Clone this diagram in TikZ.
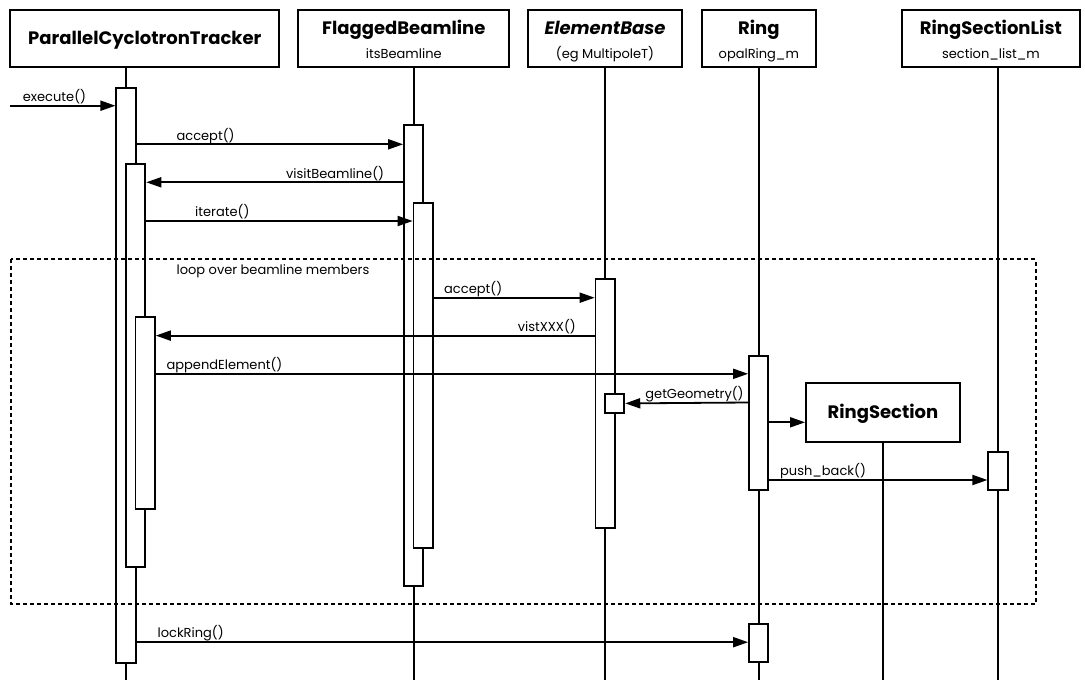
\documentclass[tikz,border=0pt]{standalone}
\usepackage{fontspec}
\setmainfont{Poppins}
\usetikzlibrary{arrows.meta}
\newcommand{\hdfont}{\fontsize{18}{21}\selectfont\bfseries}
\newcommand{\subfont}{\fontsize{13}{15}\selectfont}

\begin{document}
\begin{tikzpicture}[x=1pt, y=-1pt, >={Triangle[length=15pt,width=10pt]}, line width=1.8pt,
  obj/.style={draw, inner sep=0pt, minimum height=56.7pt},
  hd/.style={font=\hdfont, anchor=base, inner sep=0pt},
  sub/.style={font=\subfont, anchor=base, inner sep=0pt},
  bar/.style={draw, fill=white, anchor=north, minimum width=19.3pt, inner sep=0pt},
  lbl/.style={font=\subfont, inner sep=0pt},
  frame/.style={dash pattern=on 4pt off 3pt}]
  \useasboundingbox (0,0) rectangle (1085,680);

  % objects along the top
  \node[obj, minimum width=269pt] (pct) at (144.8,38.35) {};
  \node[hd] (pct-t) at (144.8,44.5) {ParallelCyclotronTracker};
  \node[obj, minimum width=211pt] (fbl) at (403.8,38.35) {};
  \node[hd] (fbl-t) at (403.8,34.3) {FlaggedBeamline};
  \node[sub] (fbl-s) at (403.8,58.3) {itsBeamline};
  \node[obj, minimum width=153.4pt] (elb) at (605,38.35) {};
  \node[hd] (elb-t) at (605,34.3) {\itshape ElementBase};
  \node[sub] (elb-s) at (605,58.3) {(eg MultipoleT)};
  \node[obj, minimum width=114.3pt] (ring) at (758.8,38.35) {};
  \node[hd] (ring-t) at (758.8,34.3) {Ring};
  \node[sub] (ring-s) at (758.8,58.3) {opalRing\_m};
  \node[obj, minimum width=178.3pt] (rsl) at (990.9,38.35) {};
  \node[hd] (rsl-t) at (990.9,34.3) {RingSectionList};
  \node[sub] (rsl-s) at (990.9,58.3) {section\_list\_m};
  \node[obj, minimum width=154pt, minimum height=58.4pt] (rs) at (883,412.5) {};
  \node[hd] (rs-t) at (883,418.3) {RingSection};

  % lifelines
  \coordinate (l-pct) at (126,680);
  \coordinate (l-fbl) at (413.7,680);
  \coordinate (l-elb) at (605.2,680);
  \coordinate (l-ring) at (758.7,680);
  \coordinate (l-rs) at (883,680);
  \coordinate (l-rsl) at (998,680);
  \draw (pct.south -| l-pct) -- (l-pct);
  \draw (fbl.south -| l-fbl) -- (l-fbl);
  \draw (elb.south -| l-elb) -- (l-elb);
  \draw (ring.south -| l-ring) -- (l-ring);
  \draw (rs.south) -- (l-rs);
  \draw (rsl.south -| l-rsl) -- (l-rsl);

  % activations
  \node[bar, minimum height=575pt] (a1) at (126,86.7) {};
  \node[bar, minimum height=402.4pt] (a2) at (135.7,163.3) {};
  \node[bar, minimum height=192pt] (a3) at (145.2,316.3) {};
  \node[bar, minimum height=460.7pt] (b1) at (413.7,124.3) {};
  \node[bar, minimum height=345pt] (b2) at (423.2,201.7) {};
  \node[bar, minimum height=249pt] (c1) at (605.2,278.3) {};
  \node[bar, minimum height=19.6pt] (c2) at (614.7,392.7) {};
  \node[bar, minimum height=134pt] (d1) at (758.7,355) {};
  \node[bar, minimum height=37.7pt] (d2) at (758.7,623.3) {};
  \node[bar, minimum height=38.6pt] (e1) at (998,450.7) {};

  % loop frame
  \draw[frame] (11,259.3) rectangle (1036,604);
  \node[lbl, anchor=base west] (loop) at (175.7,274.5) {loop over beamline members};

  % messages
  \coordinate (ext) at (10,105.7);
  \draw[->] (ext) -- (a1.west |- ext);
  \node[lbl, anchor=base west] (m1) at (22,101.4) {execute()};
  \draw[->] (a1.east |- 0,144.3) -- (b1.west |- 0,144.3);
  \node[lbl, anchor=base west] (m2) at (175.7,140) {accept()};
  \draw[->] (b1.west |- 0,182.3) -- (a2.east |- 0,182.3);
  \node[lbl, anchor=base east] (m3) at (385,178) {visitBeamline()};
  \draw[->] (a2.east |- 0,221) -- (b2.west |- 0,221);
  \node[lbl, anchor=base west] (m4) at (194.3,216.7) {iterate()};
  \draw[->] (b2.east |- 0,297.7) -- (c1.west |- 0,297.7);
  \node[lbl, anchor=base west] (m5) at (443.3,293.4) {accept()};
  \draw[->] (c1.west |- 0,335.6) -- (a3.east |- 0,335.6);
  \node[lbl, anchor=base east] (m6) at (576.7,331.3) {vistXXX()};
  \draw[->] (a3.east |- 0,373.8) -- (d1.west |- 0,373.8);
  \node[lbl, anchor=base west] (m7) at (165.7,369.5) {appendElement()};
  \draw[->] (d1.west |- 0,402.5) -- (c2.east);
  \node[lbl, anchor=base west] (m8) at (644.5,398.2) {getGeometry()};
  \draw[->] (d1.east |- 0,422.3) -- (rs.west |- 0,422.3);
  \draw[->] (d1.east |- 0,480) -- (e1.west |- 0,480);
  \node[lbl, anchor=base west] (m9) at (779.3,475.7) {push\_back()};
  \draw[->] (a1.east |- 0,642.2) -- (d2.west |- 0,642.2);
  \node[lbl, anchor=base west] (m10) at (156.7,637.9) {lockRing()};
\end{tikzpicture}
\end{document}
